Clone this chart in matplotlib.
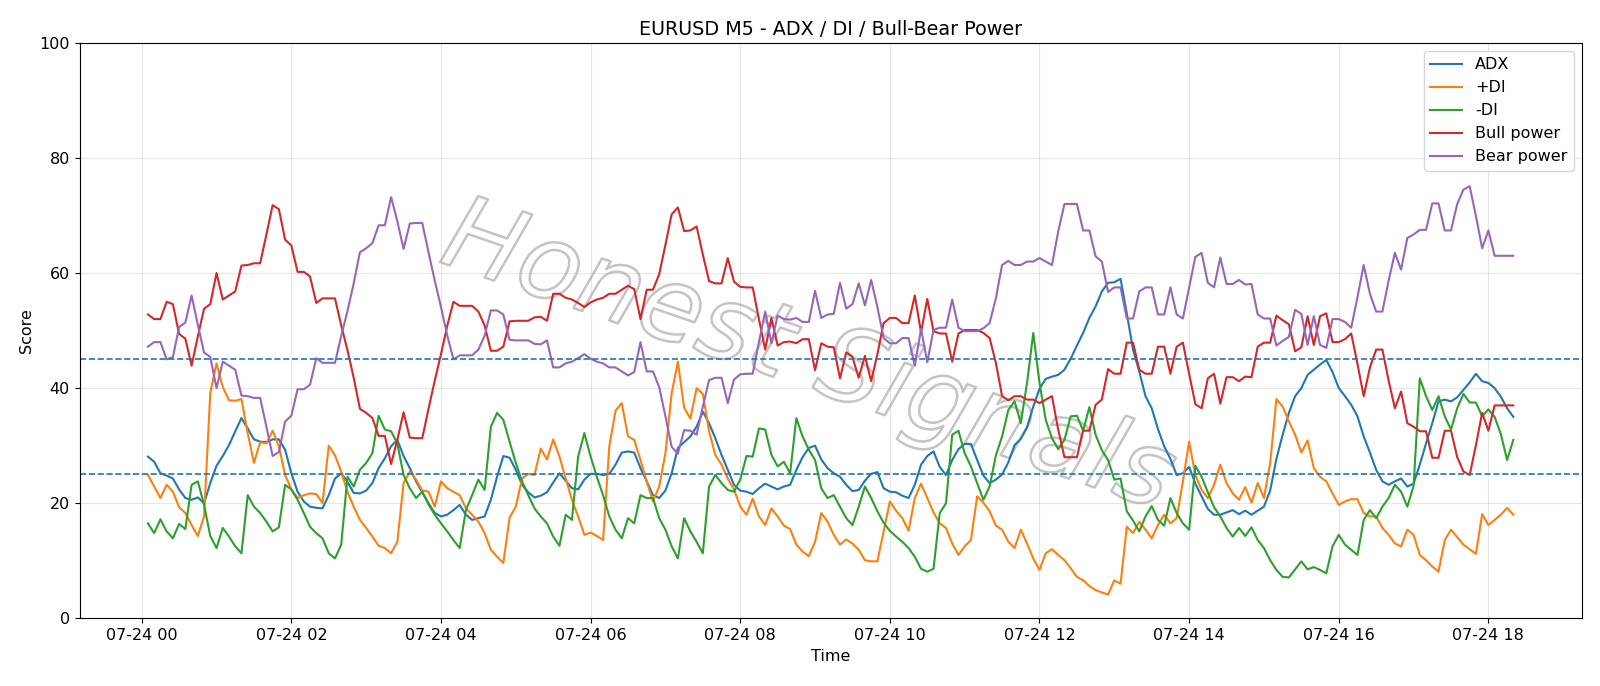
import matplotlib
matplotlib.use("Agg")
import matplotlib.pyplot as plt
import matplotlib.dates as mdates
import matplotlib.patheffects as pe
import pandas as pd

# 5-minute bars, 07-24 00:05 .. 18:20
start_time = "2025-07-24 00:05"
n_bars = 220

adx = [
    28.1, 27.2, 25.2, 24.8, 24.3, 22.4, 20.9, 20.6, 21.0, 20.0,
    23.5, 26.5, 28.2, 30.1, 32.5, 34.8, 33.0, 31.1, 30.7, 30.6,
    31.1, 31.1, 29.3, 25.2, 22.0, 20.3, 19.4, 19.2, 19.1, 21.4,
    24.3, 25.2, 23.7, 21.8, 21.7, 22.2, 23.5, 26.1, 27.8, 29.9,
    31.0, 28.2, 26.1, 23.8, 21.9, 20.0, 18.3, 17.7, 18.0, 18.8,
    19.7, 18.0, 17.1, 17.4, 17.7, 20.6, 24.6, 28.2, 27.9, 25.8,
    23.2, 21.9, 21.0, 21.3, 21.9, 23.6, 25.2, 23.9, 22.6, 22.4,
    24.1, 25.1, 25.1, 24.9, 25.1, 26.7, 28.8, 29.0, 28.8, 26.1,
    23.8, 21.4, 20.9, 22.2, 25.2, 29.6, 30.6, 31.6, 33.3, 35.9,
    33.9, 31.3, 28.4, 25.8, 23.2, 22.2, 22.0, 21.6, 22.6, 23.4,
    22.9, 22.4, 22.9, 23.2, 25.8, 28.0, 29.6, 30.0, 27.6, 26.1,
    25.2, 24.6, 23.2, 22.1, 22.3, 23.9, 25.1, 25.4, 22.6, 22.0,
    21.9, 21.3, 20.9, 23.2, 26.7, 28.2, 29.0, 26.3, 24.9, 27.5,
    29.4, 30.3, 30.3, 27.5, 24.8, 23.5, 24.1, 25.0, 27.1, 30.1,
    31.2, 33.2, 36.8, 39.9, 41.6, 42.0, 42.3, 43.2, 45.1, 47.4,
    49.6, 52.2, 54.2, 56.8, 58.3, 58.4, 59.0, 53.0, 46.7, 42.9,
    38.6, 36.5, 32.9, 29.9, 27.7, 24.9, 25.2, 26.3, 23.4, 21.2,
    19.0, 18.0, 18.0, 18.4, 18.8, 18.1, 18.7, 18.0, 18.7, 19.4,
    22.2, 27.7, 31.9, 35.7, 38.6, 40.0, 42.3, 43.2, 44.1, 44.9,
    42.8, 40.0, 38.6, 37.1, 35.1, 31.6, 28.8, 25.8, 23.8, 23.2,
    23.8, 24.3, 22.9, 23.4, 26.7, 30.4, 33.9, 37.7, 38.0, 37.7,
    38.4, 39.7, 41.0, 42.5, 41.2, 40.9, 40.0, 38.5, 36.5, 35.0,
]

plus_di = [
    24.9, 22.9, 20.9, 23.2, 22.0, 19.3, 18.3, 16.2, 14.3, 17.7,
    39.2, 44.3, 40.2, 37.9, 37.8, 38.1, 32.2, 27.0, 30.6, 30.4,
    32.6, 29.9, 24.9, 22.4, 20.9, 21.4, 21.7, 21.6, 20.0, 30.0,
    28.3, 25.5, 22.0, 19.4, 17.1, 15.7, 14.2, 12.6, 12.2, 11.3,
    13.3, 23.5, 25.5, 24.1, 22.2, 22.0, 19.4, 23.8, 22.6, 22.0,
    21.4, 19.1, 18.0, 16.8, 14.8, 11.9, 10.7, 9.6, 17.5, 19.4,
    24.3, 25.1, 24.9, 29.5, 27.6, 31.1, 28.1, 24.3, 20.6, 17.7,
    14.5, 14.9, 14.3, 13.6, 29.9, 36.1, 37.4, 31.6, 31.0, 27.5,
    23.8, 20.3, 22.9, 28.7, 39.1, 44.6, 36.6, 34.7, 40.0, 39.0,
    32.5, 28.4, 26.7, 24.3, 22.4, 19.4, 18.0, 20.8, 17.7, 16.2,
    19.1, 17.7, 16.1, 15.5, 12.8, 11.6, 10.8, 13.3, 18.3, 16.8,
    14.5, 12.8, 13.7, 13.0, 11.9, 10.1, 9.9, 9.9, 15.1, 20.3,
    18.7, 17.4, 15.2, 20.9, 23.4, 20.9, 18.4, 16.5, 15.7, 13.0,
    11.0, 12.5, 13.6, 21.2, 20.1, 18.6, 16.1, 15.4, 13.3, 12.2,
    15.4, 13.0, 10.4, 8.4, 11.3, 12.0, 11.0, 10.1, 8.7, 7.2,
    6.6, 5.6, 4.9, 4.5, 4.1, 6.6, 6.0, 15.9, 14.8, 16.8,
    15.4, 13.9, 16.2, 18.0, 16.5, 17.4, 23.8, 30.7, 24.9, 22.3,
    20.9, 23.2, 26.7, 23.5, 21.7, 20.6, 22.8, 20.1, 23.5, 20.9,
    27.0, 38.1, 36.8, 34.2, 31.9, 28.8, 30.9, 26.1, 24.6, 23.8,
    21.7, 19.7, 20.3, 20.7, 20.7, 18.3, 17.7, 17.7, 15.7, 14.5,
    13.0, 12.5, 15.4, 14.5, 11.0, 10.1, 9.0, 8.1, 13.6, 15.4,
    14.1, 12.8, 12.0, 11.2, 18.1, 16.2, 17.1, 18.0, 19.2, 18.0,
]

minus_di = [
    16.5, 14.8, 17.2, 15.1, 13.9, 16.4, 15.5, 23.2, 23.8, 19.7,
    14.3, 12.2, 15.7, 14.2, 12.5, 11.3, 21.4, 19.4, 18.3, 16.8,
    15.1, 15.8, 23.2, 22.4, 20.6, 18.3, 15.9, 14.8, 13.9, 11.3,
    10.4, 12.8, 24.6, 22.9, 25.8, 27.0, 28.7, 35.2, 32.8, 32.5,
    30.4, 24.9, 22.6, 20.9, 22.0, 19.8, 18.0, 16.5, 15.1, 13.6,
    12.2, 18.8, 21.4, 24.1, 22.3, 33.3, 35.7, 34.5, 30.7, 27.0,
    23.8, 21.4, 19.1, 17.7, 16.5, 14.2, 12.6, 18.0, 17.1, 28.1,
    32.2, 28.1, 24.6, 21.4, 17.7, 15.4, 13.9, 17.4, 16.5, 21.4,
    20.9, 20.9, 17.4, 15.4, 12.5, 10.4, 17.4, 15.1, 13.3, 11.3,
    22.9, 24.9, 23.5, 22.3, 22.0, 24.1, 28.2, 28.1, 33.0, 32.8,
    28.4, 26.4, 27.2, 25.2, 34.8, 31.6, 29.3, 27.5, 22.6, 20.9,
    21.4, 19.4, 17.4, 16.2, 19.4, 22.9, 20.9, 18.6, 16.6, 15.2,
    14.2, 13.3, 12.2, 10.7, 8.6, 8.1, 8.6, 18.3, 20.0, 31.9,
    32.6, 28.7, 26.4, 23.5, 20.6, 22.9, 28.3, 31.6, 36.2, 37.7,
    33.9, 40.9, 49.6, 40.9, 34.5, 31.3, 29.4, 31.0, 35.1, 35.2,
    32.6, 36.7, 31.9, 29.2, 27.5, 24.1, 24.3, 18.6, 17.0, 15.1,
    17.7, 19.5, 17.1, 16.1, 20.9, 18.3, 16.5, 15.4, 26.5, 24.6,
    21.9, 19.3, 17.7, 15.7, 14.2, 15.7, 14.3, 15.8, 13.6, 12.2,
    10.1, 8.4, 7.2, 7.1, 8.5, 9.9, 8.5, 8.9, 8.4, 7.8,
    12.5, 14.5, 12.8, 11.9, 11.0, 17.1, 18.8, 17.4, 19.4, 20.9,
    23.2, 22.0, 19.4, 23.0, 41.7, 38.6, 36.2, 38.6, 35.1, 32.8,
    36.5, 39.0, 37.5, 37.5, 35.1, 36.3, 35.0, 32.0, 27.5, 31.0,
]

bull_power = [
    52.8, 52.0, 52.0, 55.0, 54.6, 49.4, 48.6, 43.9, 49.0, 53.8,
    54.6, 60.0, 55.4, 56.1, 56.8, 61.3, 61.4, 61.7, 61.7, 66.7,
    71.8, 71.1, 65.8, 64.8, 60.2, 60.2, 59.4, 54.8, 55.6, 55.6,
    55.6, 50.9, 46.6, 41.8, 36.4, 35.7, 34.8, 31.7, 31.7, 26.8,
    31.0, 35.8, 31.4, 31.3, 31.3, 36.4, 41.3, 45.9, 50.8, 55.0,
    54.3, 54.3, 54.3, 53.3, 50.9, 46.5, 46.5, 47.2, 51.6, 51.7,
    51.7, 51.7, 52.3, 52.4, 51.7, 56.4, 56.4, 55.7, 55.4, 54.8,
    54.1, 54.9, 55.4, 55.7, 56.4, 56.4, 57.1, 57.8, 57.2, 52.0,
    57.1, 57.1, 59.8, 64.9, 70.2, 71.4, 67.3, 67.4, 68.1, 63.2,
    58.6, 58.2, 58.2, 62.6, 58.5, 57.6, 57.5, 57.5, 52.0, 46.7,
    52.2, 47.4, 48.0, 48.1, 47.8, 48.5, 48.5, 43.1, 47.8, 47.2,
    47.1, 41.7, 46.2, 45.4, 41.8, 45.6, 41.2, 45.9, 51.3, 52.2,
    52.2, 51.3, 51.3, 56.1, 49.7, 55.5, 49.9, 49.5, 49.5, 44.6,
    49.5, 50.1, 50.1, 50.1, 49.6, 48.7, 44.4, 38.6, 37.9, 38.6,
    38.6, 38.0, 38.0, 37.4, 38.0, 38.6, 32.8, 28.0, 28.0, 28.0,
    32.6, 32.6, 37.1, 38.0, 43.3, 42.5, 42.5, 47.9, 47.9, 43.2,
    42.5, 42.5, 47.2, 47.2, 42.5, 47.2, 47.9, 42.5, 37.2, 36.5,
    41.7, 42.5, 37.3, 41.9, 41.9, 41.2, 42.0, 41.9, 47.2, 47.9,
    47.9, 52.6, 51.8, 51.1, 46.4, 47.1, 52.5, 47.5, 52.5, 53.0,
    48.0, 48.0, 48.5, 49.5, 44.2, 38.6, 43.6, 46.7, 46.7, 41.3,
    36.5, 39.4, 33.9, 33.3, 32.5, 32.5, 27.9, 27.9, 32.6, 32.6,
    28.0, 25.5, 24.9, 30.1, 35.7, 32.6, 37.0, 37.0, 37.0, 37.0,
]

bear_power = [
    47.2, 48.0, 48.0, 45.0, 45.4, 50.6, 51.4, 56.1, 51.0, 46.2,
    45.4, 40.0, 44.6, 43.9, 43.2, 38.7, 38.6, 38.3, 38.3, 33.3,
    28.2, 28.9, 34.2, 35.2, 39.8, 39.8, 40.6, 45.2, 44.4, 44.4,
    44.4, 49.1, 53.4, 58.2, 63.6, 64.3, 65.2, 68.3, 68.3, 73.2,
    69.0, 64.2, 68.6, 68.7, 68.7, 63.6, 58.7, 54.1, 49.2, 45.0,
    45.7, 45.7, 45.7, 46.7, 49.1, 53.5, 53.5, 52.8, 48.4, 48.3,
    48.3, 48.3, 47.7, 47.6, 48.3, 43.6, 43.6, 44.3, 44.6, 45.2,
    45.9, 45.1, 44.6, 44.3, 43.6, 43.6, 42.9, 42.2, 42.8, 48.0,
    42.9, 42.9, 40.2, 35.1, 29.8, 28.6, 32.7, 32.6, 31.9, 36.8,
    41.4, 41.8, 41.8, 37.4, 41.5, 42.4, 42.5, 42.5, 48.0, 53.3,
    47.8, 52.6, 52.0, 51.9, 52.2, 51.5, 51.5, 56.9, 52.2, 52.8,
    52.9, 58.3, 53.8, 54.6, 58.2, 54.4, 58.8, 54.1, 48.7, 47.8,
    47.8, 48.7, 48.7, 43.9, 50.3, 44.5, 50.1, 50.5, 50.5, 55.4,
    50.5, 49.9, 49.9, 49.9, 50.4, 51.3, 55.6, 61.4, 62.1, 61.4,
    61.4, 62.0, 62.0, 62.6, 62.0, 61.4, 67.2, 72.0, 72.0, 72.0,
    67.4, 67.4, 62.9, 62.0, 56.7, 57.5, 57.5, 52.1, 52.1, 56.8,
    57.5, 57.5, 52.8, 52.8, 57.5, 52.8, 52.1, 57.5, 62.8, 63.5,
    58.3, 57.5, 62.7, 58.1, 58.1, 58.8, 58.0, 58.1, 52.8, 52.1,
    52.1, 47.4, 48.2, 48.9, 53.6, 52.9, 47.5, 52.5, 47.5, 47.0,
    52.0, 52.0, 51.5, 50.5, 55.8, 61.4, 56.4, 53.3, 53.3, 58.7,
    63.5, 60.6, 66.1, 66.7, 67.5, 67.5, 72.1, 72.1, 67.4, 67.4,
    72.0, 74.5, 75.1, 69.9, 64.3, 67.4, 63.0, 63.0, 63.0, 63.0,
]

levels = [25, 45]

times = pd.date_range(start_time, periods=n_bars, freq="5min")

plt.rcParams["font.size"] = 11.5

fig, ax = plt.subplots(figsize=(16, 6.86), dpi=100)
fig.subplots_adjust(left=0.0498, right=0.9885, top=0.9375, bottom=0.0987)

ax.plot(times, adx, label="ADX")
ax.plot(times, plus_di, label="+DI")
ax.plot(times, minus_di, label="-DI")
ax.plot(times, bull_power, label="Bull power")
ax.plot(times, bear_power, label="Bear power")

for lv in levels:
    ax.axhline(lv, color="#1f77b4", linestyle="--", linewidth=1.2)

# watermark, hollow grey letters
ax.text(0.485, 0.452, "Honest Signals", transform=ax.transAxes,
        family=["Liberation Sans Narrow", "DejaVu Sans"],
        fontsize=74, rotation=-19, style="italic", color="none",
        ha="center", va="center", zorder=1,
        path_effects=[pe.withStroke(linewidth=1.8, foreground="#c4c4c4")])

ax.set_ylim(0, 100)
ax.xaxis.set_major_locator(mdates.HourLocator(byhour=range(0, 24, 2)))
ax.xaxis.set_major_formatter(mdates.DateFormatter("%m-%d %H"))
ax.grid(True, alpha=0.3)
ax.set_title("EURUSD M5 - ADX / DI / Bull-Bear Power")
ax.set_xlabel("Time")
ax.set_ylabel("Score")
ax.legend(loc="upper right")

fig.savefig("out.png")
